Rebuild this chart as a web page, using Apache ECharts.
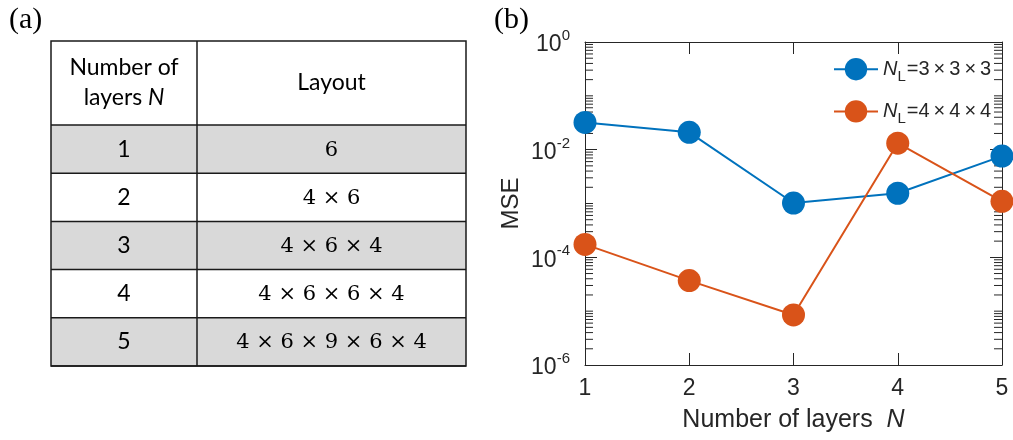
<!DOCTYPE html>
<html>
<head>
<meta charset="utf-8">
<script src="https://cdn.jsdelivr.net/npm/echarts@6/dist/echarts.min.js"></script>
<style>
  html, body { margin: 0; padding: 0; background: #fff; }
  #chart { width: 1013px; height: 440px; }
</style>
</head>
<body>
<div id="chart"></div>
<script>
// ---- (a) table contents ----
const tableHeader = ['Number of\nlayers {i|N}', 'Layout'];
const layerCounts = [1, 2, 3, 4, 5];
const layouts = ['6', '4 × 6', '4 × 6 × 4', '4 × 6 × 6 × 4', '4 × 6 × 9 × 6 × 4'];

// ---- (b) MSE versus number of layers ----
const xTicks = [1, 2, 3, 4, 5];
const legendSizes = ['3×3×3', '4×4×4'];
const mse333 = [0.032, 0.021, 0.00102, 0.00155, 0.0076];
const mse444 = [1.74e-4, 3.7e-5, 8.5e-6, 0.0132, 0.0011];
const yMin = 1e-6, yMax = 1;

const seriesColors = ['#0072BD', '#D95319'];
const axisColor = '#262626';
const sansFont = 'Liberation Sans';

// minor log ticks: 1..9 × 10^d inside every decade (the 10^even ones are major ticks)
const minorTickValues = [];
for (let d = -6; d < 0; d++) {
  for (let k = 1; k <= 9; k++) {
    if (k === 1 && d % 2 === 0) continue;
    minorTickValues.push(k * Math.pow(10, d));
  }
}

// ---- table geometry ----
const tbl = { left: 51, top: 41, col1: 146, col2: 269, headH: 84, rowH: 48.2 };
const tableGraphics = [];
const lineStyle = { stroke: '#1a1a1a', lineWidth: 1.5 };
const tableW = tbl.col1 + tbl.col2;
const tableH = tbl.headH + tbl.rowH * layerCounts.length;

layerCounts.forEach((n, i) => {
  const y0 = tbl.top + tbl.headH + i * tbl.rowH;
  tableGraphics.push({
    type: 'rect', silent: true,
    shape: { x: tbl.left, y: y0, width: tableW, height: tbl.rowH },
    style: { fill: i % 2 === 0 ? '#D9D9D9' : '#ffffff' }
  });
  tableGraphics.push({
    type: 'text', silent: true,
    style: { text: String(n), x: tbl.left + tbl.col1 / 2, y: y0 + tbl.rowH / 2,
      align: 'center', verticalAlign: 'middle',
      font: '23px Lato', fill: '#000' }
  });
  tableGraphics.push({
    type: 'text', silent: true,
    style: { text: layouts[i], x: tbl.left + tbl.col1 + tbl.col2 / 2, y: y0 + tbl.rowH / 2 + 1,
      align: 'center', verticalAlign: 'middle',
      font: '21px "DejaVu Serif"', fill: '#000' }
  });
});
// header text
tableGraphics.push({
  type: 'text', silent: true,
  style: { text: tableHeader[0], x: tbl.left + tbl.col1 / 2, y: tbl.top + tbl.headH / 2,
    align: 'center', verticalAlign: 'middle', font: '23px Lato', lineHeight: 30, fill: '#000',
    rich: { i: { font: 'italic 23px Lato', lineHeight: 30 } } }
});
tableGraphics.push({
  type: 'text', silent: true,
  style: { text: tableHeader[1], x: tbl.left + tbl.col1 + tbl.col2 / 2, y: tbl.top + tbl.headH / 2,
    align: 'center', verticalAlign: 'middle', font: '23px Lato', fill: '#000' }
});
// grid lines of the table
for (let i = 0; i <= layerCounts.length; i++) {
  const y = tbl.top + tbl.headH + i * tbl.rowH;
  tableGraphics.push({ type: 'line', silent: true,
    shape: { x1: tbl.left, y1: y, x2: tbl.left + tableW, y2: y }, style: lineStyle });
}
tableGraphics.push({ type: 'rect', silent: true,
  shape: { x: tbl.left, y: tbl.top, width: tableW, height: tableH },
  style: { fill: 'none', stroke: '#1a1a1a', lineWidth: 1.5 } });
tableGraphics.push({ type: 'line', silent: true,
  shape: { x1: tbl.left + tbl.col1, y1: tbl.top, x2: tbl.left + tbl.col1, y2: tbl.top + tableH },
  style: lineStyle });

// panel labels
tableGraphics.push({ type: 'text', silent: true,
  style: { text: '(a)', x: 9, y: 20, verticalAlign: 'middle', font: '30px "Liberation Serif"', fill: '#000' } });
tableGraphics.push({ type: 'text', silent: true,
  style: { text: '(b)', x: 494, y: 20, verticalAlign: 'middle', font: '30px "Liberation Serif"', fill: '#000' } });

const supRich = {
  base: { fontSize: 23, fontFamily: sansFont, color: axisColor, padding: [6, 0, 0, 0] },
  sup: { fontSize: 15, fontFamily: sansFont, color: axisColor, padding: [0, 0, 12, 0] }
};

function logLabel(v) {
  const e = Math.round(Math.log10(v));
  return '{base|10}{sup|' + e + '}';
}

const chart = echarts.init(document.getElementById('chart'), null, { renderer: 'canvas' });

const option = {
  animation: false,
  backgroundColor: '#fff',
  graphic: tableGraphics,
  grid: { left: 585, top: 42, width: 417, height: 323, containLabel: false },
  legend: {
    data: legendSizes.map(s => 'N_L=' + s),
    orient: 'vertical',
    left: 833,
    top: 58,
    padding: 0,
    itemWidth: 44,
    itemHeight: 28,
    itemGap: 16,
    formatter: name => '{i|N}{sub|L}{t|=' + name.slice(4).split('×').join('\u2009×\u2009') + '}',
    textStyle: {
      rich: {
        i: { fontSize: 20, fontStyle: 'italic', fontFamily: sansFont, color: axisColor },
        sub: { fontSize: 15, fontFamily: sansFont, color: axisColor, padding: [15, 1, 0, 0] },
        t: { fontSize: 20, fontFamily: sansFont, color: axisColor }
      }
    }
  },
  xAxis: [{
    type: 'value', min: 1, max: 5, interval: 1, position: 'bottom',
    name: 'Number of layers  {i|N}', nameLocation: 'middle', nameGap: 43,
    nameTextStyle: {
      fontSize: 25, fontFamily: sansFont, color: axisColor,
      rich: { i: { fontSize: 25, fontStyle: 'italic', fontFamily: sansFont, color: axisColor } }
    },
    axisLine: { show: true, onZero: false, lineStyle: { color: axisColor, width: 1 } },
    axisTick: { show: true, inside: true, length: 12, lineStyle: { color: axisColor } },
    axisLabel: { fontSize: 23, fontFamily: sansFont, color: axisColor, margin: 12,
      formatter: v => xTicks.includes(v) ? String(v) : '' },
    splitLine: { show: false }
  }, {
    type: 'value', min: 1, max: 5, interval: 1, position: 'top',
    axisLine: { show: true, onZero: false, lineStyle: { color: axisColor, width: 1 } },
    axisTick: { show: true, inside: true, length: 12, lineStyle: { color: axisColor } },
    axisLabel: { show: false },
    splitLine: { show: false }
  }],
  yAxis: [{
    type: 'log', logBase: 100, min: yMin, max: yMax, position: 'left',
    name: 'MSE', nameLocation: 'middle', nameGap: 62,
    nameTextStyle: { fontSize: 24, fontFamily: sansFont, color: axisColor },
    axisLine: { show: true, onZero: false, lineStyle: { color: axisColor, width: 1 } },
    axisTick: { show: true, inside: true, length: 12, lineStyle: { color: axisColor } },
    axisLabel: { formatter: logLabel, rich: supRich, margin: 15, fontSize: 23, fontFamily: sansFont },
    splitLine: { show: false }
  }, {
    type: 'log', logBase: 100, min: yMin, max: yMax, position: 'right',
    axisLine: { show: true, onZero: false, lineStyle: { color: axisColor, width: 1 } },
    axisTick: { show: true, inside: true, length: 12, lineStyle: { color: axisColor } },
    axisLabel: { show: false },
    splitLine: { show: false }
  }],
  series: [{
    name: 'minor ticks',
    type: 'custom',
    silent: true,
    clip: false,
    xAxisIndex: 0, yAxisIndex: 0,
    data: minorTickValues.map(v => [1, v]),
    renderItem: (params, api) => {
      const v = api.value(1);
      const l = api.coord([1, v]);
      const r = api.coord([5, v]);
      const st = { stroke: axisColor, lineWidth: 1 };
      return {
        type: 'group',
        children: [
          { type: 'line', shape: { x1: l[0], y1: l[1], x2: l[0] + 8, y2: l[1] }, style: st },
          { type: 'line', shape: { x1: r[0] - 8, y1: r[1], x2: r[0], y2: r[1] }, style: st }
        ]
      };
    },
    z: 1
  }, {
    name: 'N_L=' + legendSizes[0],
    type: 'line',
    data: layerCounts.map((n, i) => [n, mse333[i]]),
    symbol: 'circle', symbolSize: 23,
    lineStyle: { color: seriesColors[0], width: 2 },
    itemStyle: { color: seriesColors[0] },
    z: 3
  }, {
    name: 'N_L=' + legendSizes[1],
    type: 'line',
    data: layerCounts.map((n, i) => [n, mse444[i]]),
    symbol: 'circle', symbolSize: 23,
    lineStyle: { color: seriesColors[1], width: 2 },
    itemStyle: { color: seriesColors[1] },
    z: 4
  }]
};

chart.setOption(option);
</script>
</body>
</html>
